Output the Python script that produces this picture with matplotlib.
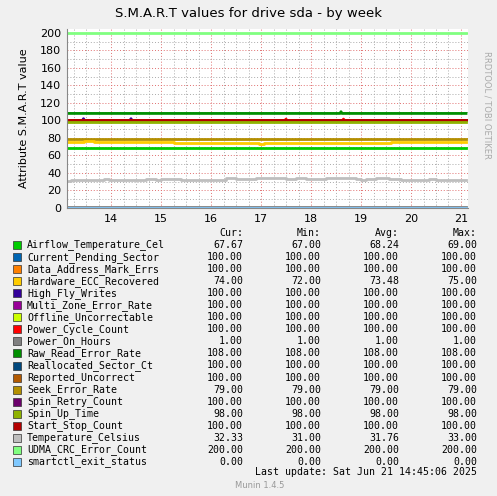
import numpy as np
import matplotlib.pyplot as plt

# legend names, colours and summary values (Cur, Min, Avg, Max)
names = ["Airflow_Temperature_Cel", "Current_Pending_Sector", "Data_Address_Mark_Errs",
         "Hardware_ECC_Recovered", "High_Fly_Writes", "Multi_Zone_Error_Rate",
         "Offline_Uncorrectable", "Power_Cycle_Count", "Power_On_Hours",
         "Raw_Read_Error_Rate", "Reallocated_Sector_Ct", "Reported_Uncorrect",
         "Seek_Error_Rate", "Spin_Retry_Count", "Spin_Up_Time", "Start_Stop_Count",
         "Temperature_Celsius", "UDMA_CRC_Error_Count", "smartctl_exit_status"]
colors = ["#00CC00", "#0066B3", "#FF8000", "#FFCC00", "#330099", "#990099",
          "#CCFF00", "#FF0000", "#808080", "#008F00", "#00487D", "#B35A00",
          "#B38F00", "#6B006B", "#8FB300", "#B30000", "#BEBEBE", "#80FF80", "#80C9FF"]
cur = [67.67, 100, 100, 74, 100, 100, 100, 100, 1, 108, 100, 100, 79, 100, 98, 100, 32.33, 200, 0]
vmin = [67, 100, 100, 72, 100, 100, 100, 100, 1, 108, 100, 100, 79, 100, 98, 100, 31, 200, 0]
vavg = [68.24, 100, 100, 73.48, 100, 100, 100, 100, 1, 108, 100, 100, 79, 100, 98, 100, 31.76, 200, 0]
vmax = [69, 100, 100, 75, 100, 100, 100, 100, 1, 108, 100, 100, 79, 100, 98, 100, 33, 200, 0]

# time axis in days of June
t_start, t_end = 13.12, 21.1
# step series: (day, value)
airflow_t = [13.12, 16.0, 17.9, 18.0, 18.1, 18.2, 18.95, 19.05, 19.6, 20.0, 20.1, 20.2, 20.3, 21.0, 21.1]
airflow_v = [69, 68, 69, 68, 69, 68, 69, 68, 69, 68, 69, 68, 69, 68, 68]
ecc_t = [13.12, 13.45, 13.65, 15.25, 16.95, 17.05, 19.6, 21.1]
ecc_v = [75, 76, 75, 74, 73, 74, 75, 75]
temp_t = [13.12, 13.2, 13.85, 13.95, 14.6, 14.7, 14.9, 15.0, 15.4, 16.0, 16.3, 16.5,
          16.7, 16.9, 17.3, 17.5, 17.7, 17.9, 18.1, 18.3, 18.5, 18.9, 19.0, 19.1,
          19.3, 19.55, 19.8, 20.2, 20.35, 20.5, 20.9, 21.1]
temp_v = [31, 32, 33, 32, 32, 33, 32, 33, 32, 32, 34, 33, 33, 34, 34, 33, 34, 33,
          33, 34, 34, 33, 32, 33, 34, 33, 32, 32, 33, 32, 32, 32]
highfly_spikes = [13.45, 14.4]
powercycle_spikes = [17.5, 18.65]
rawread_spikes = [18.6]

fig = plt.figure(figsize=(4.97, 4.96), dpi=100, facecolor="#F0F0F0")
W, H = 497, 496
ax = fig.add_axes([67 / W, 1 - 208 / H, (468 - 67) / W, (208 - 28.5) / H])
ax.set_facecolor("white")
ax.set_xlim(t_start, t_end + 0.04)
ax.set_ylim(0, 205)


def const(i, y):
    ax.plot([t_start, t_end], [y, y], color=colors[i], lw=2)


def steps(i, tt, vv):
    ax.step(tt, vv, where="post", color=colors[i], lw=2)


def spikes(i, base, tops, h):
    tt = [t_start]
    vv = [base]
    for s in tops:
        tt += [s - 0.02, s, s + 0.02]
        vv += [base, base + h, base]
    tt.append(t_end)
    vv.append(base)
    ax.plot(tt, vv, color=colors[i], lw=2)


const(17, 200)
spikes(9, 108, rawread_spikes, 2)
const(1, 100)
const(2, 100)
spikes(4, 100, highfly_spikes, 2)
const(5, 100)
const(6, 100)
const(10, 100)
const(11, 100)
const(13, 100)
spikes(7, 100, powercycle_spikes, 1.5)
const(15, 100)
const(14, 98)
const(12, 79)
steps(3, ecc_t, ecc_v)
steps(0, airflow_t, airflow_v)
steps(16, temp_t, temp_v)
const(8, 1)
const(18, 0)

ax.set_yticks(np.arange(0, 201, 20))
ax.set_yticks(np.arange(0, 201, 10), minor=True)
ax.set_xticks(np.arange(14, 22))
ax.set_xticks(np.arange(13.25, 21.2, 0.25), minor=True)
ax.grid(True, which="minor", color="#AAAAAA", ls=(0, (1, 2)), lw=0.7)
ax.grid(True, which="major", color="#E07070", ls=(0, (1, 2)), lw=0.7)
ax.set_axisbelow(True)
ax.tick_params(which="both", length=0, labelsize=8, pad=4)
for s in ["top", "right"]:
    ax.spines[s].set_visible(False)
for s in ["left", "bottom"]:
    ax.spines[s].set_color("#888888")
ax.set_ylabel("Attribute S.M.A.R.T value", fontsize=8, labelpad=8)

fig.text(0.5, 1 - 13 / H, "S.M.A.R.T values for drive sda - by week",
         ha="center", va="center", fontsize=9.5)
fig.text(487 / W, 1 - 105 / H, "RRDTOOL / TOBI OETIKER", rotation=270,
         ha="center", va="center", fontsize=6, color="#AAAAAA")

mono = dict(family="DejaVu Sans Mono", fontsize=7.1, va="center")
cols_x = [243, 321, 399, 477]
for x, lab in zip(cols_x, ["Cur:", "Min:", "Avg:", "Max:"]):
    fig.text(x / W, 1 - 233 / H, lab, ha="right", **mono)
for k, name in enumerate(names):
    y = 1 - (245 + k * 12.05) / H
    fig.patches.append(plt.Rectangle((13 / W, y - 4 / H), 8 / W, 8 / H,
                                     transform=fig.transFigure, facecolor=colors[k],
                                     edgecolor="#333333", lw=0.5))
    fig.text(27 / W, y, name, ha="left", **mono)
    for x, v in zip(cols_x, [cur[k], vmin[k], vavg[k], vmax[k]]):
        fig.text(x / W, y, "%.2f" % v, ha="right", **mono)
fig.text(477 / W, 1 - 472 / H, "Last update: Sat Jun 21 14:45:06 2025", ha="right", **mono)
fig.text(260 / W, 1 - 485 / H, "Munin 1.4.5", ha="center", va="center",
         fontsize=6, color="#999999")

fig.savefig("out.png", dpi=100, facecolor=fig.get_facecolor())
